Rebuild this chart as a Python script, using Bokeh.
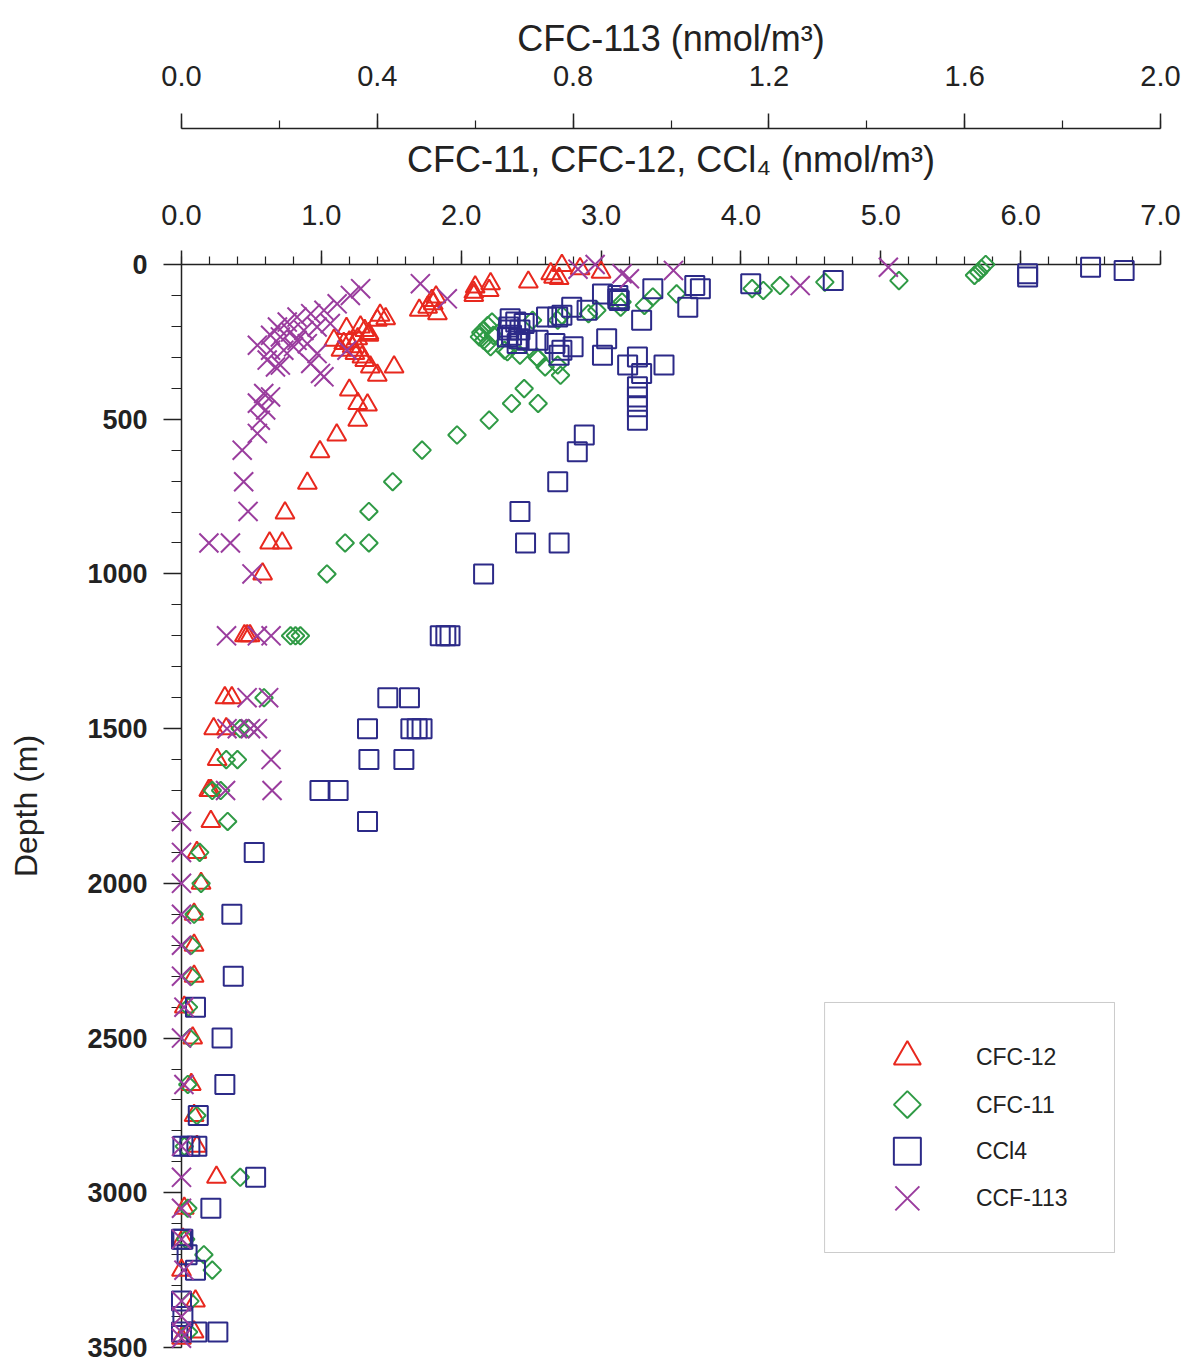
import numpy as np
from bokeh.plotting import figure
from bokeh.models import (Range1d, LinearAxis, FixedTicker, PrintfTickFormatter, BoxAnnotation)
from bokeh.core.properties import value
from bokeh.embed import file_html
from bokeh.resources import INLINE

# ---- profile data: depth (m) and concentration (nmol/m3) ----
cfc12_depth = [3, 14, 25, 30, 41, 45, 57, 62, 73, 84, 90, 100, 105, 116, 127, 138, 148, 159, 164, 175,
               180, 202, 207, 213, 223, 229, 240, 245, 250, 255, 266, 277, 277, 288, 299, 310, 331, 358, 331, 406,
               449, 454, 503, 551, 605, 707, 803, 900, 900, 1000, 1200, 1200, 1200, 1400, 1400,
               1500, 1500, 1600, 1700, 1700, 1800, 1900, 2000, 2100, 2200, 2300, 2400, 2500, 2650, 2750,
               2850, 2950, 3050, 3150, 3250, 3350, 3450, 3470]
cfc12_conc = [2.72, 2.85, 3.00, 2.64, 2.66, 2.70, 2.48, 2.21, 2.10, 2.20, 2.09, 2.09, 1.82, 1.79, 1.80, 1.76, 1.70, 1.83, 1.42, 1.46,
              1.40, 1.28, 1.18, 1.31, 1.34, 1.34, 1.26, 1.09, 1.20, 1.16, 1.22, 1.14, 1.27, 1.24, 1.29, 1.31, 1.35, 1.40, 1.52, 1.20,
              1.26, 1.33, 1.26, 1.11, 0.99, 0.90, 0.74, 0.63, 0.72, 0.58, 0.45, 0.47, 0.49, 0.31, 0.36,
              0.23, 0.32, 0.255, 0.195, 0.21, 0.21, 0.11, 0.14, 0.09, 0.09, 0.09, 0.02, 0.08, 0.07, 0.09,
              0.11, 0.25, 0.02, 0.01, 0.0, 0.10, 0.09, 0.0]

cfc11_depth = [0, 14, 25, 35, 52, 57, 68, 78, 84, 95, 105, 121, 132, 138, 148, 159, 164, 180, 180, 186,
               197, 212, 220, 229, 234, 245, 255, 266, 277, 282, 293, 299, 304, 325, 331, 358, 401, 449, 449, 503,
               551, 600, 702, 798, 900, 900, 1000, 1200, 1200, 1200, 1400, 1500, 1500, 1600, 1600,
               1700, 1700, 1800, 1900, 2000, 2100, 2200, 2300, 2400, 2500, 2650, 2750, 2850, 2950, 3050,
               3150, 3200, 3250, 3350, 3450]
cfc11_conc = [5.75, 5.72, 5.70, 5.67, 5.13, 4.60, 4.28, 4.08, 4.16, 3.54, 3.37, 3.15, 3.31, 3.14, 2.97, 2.91, 2.72, 2.69, 2.51, 2.22,
              2.19, 2.16, 2.14, 2.23, 2.13, 2.16, 2.19, 2.21, 2.31, 2.33, 2.42, 2.54, 2.55, 2.69, 2.60, 2.71, 2.45, 2.36, 2.55, 2.20,
              1.97, 1.72, 1.51, 1.34, 1.17, 1.34, 1.04, 0.78, 0.815, 0.85, 0.59, 0.42, 0.48, 0.32, 0.40,
              0.22, 0.28, 0.33, 0.13, 0.14, 0.09, 0.07, 0.07, 0.05, 0.06, 0.045, 0.11, 0.02, 0.42, 0.045,
              0.03, 0.16, 0.22, 0.06, 0.05]

ccl4_depth = [9, 19, 30, 40, 52, 62, 68, 78, 78, 95, 100, 111, 116, 138, 138, 148, 164, 170, 170, 175,
              180, 186, 191, 202, 212, 212, 229, 234, 240, 240, 245, 245, 255, 255, 266, 277, 293, 293, 299, 325,
              325, 352, 395, 428, 460, 503, 551, 605, 702, 798, 900, 900, 1000, 1200, 1200, 1200, 1400, 1400,
              1500, 1500, 1500, 1500, 1600, 1600, 1700, 1700, 1800, 1900, 2100, 2300, 2400, 2500, 2650, 2750,
              2850, 2850, 2850, 2950, 3050, 3150, 3150, 3200, 3250, 3350, 3400, 3450, 3450, 3450]
ccl4_conc = [6.50, 6.74, 6.05, 6.05, 4.66, 4.07, 3.67, 3.71, 3.37, 3.01, 3.12, 3.12, 3.13, 3.62, 2.79, 2.90, 2.72, 2.61, 2.69, 2.35,
             3.29, 2.39, 2.45, 2.34, 2.42, 2.34, 2.36, 2.33, 2.41, 3.04, 2.47, 2.55, 2.40, 2.67, 2.80, 2.72, 2.70, 3.01, 3.26, 3.19,
             3.45, 3.29, 3.26, 3.26, 3.26, 3.26, 2.88, 2.83, 2.69, 2.42, 2.46, 2.70, 2.16, 1.85, 1.89, 1.92, 1.475, 1.63,
             1.33, 1.64, 1.685, 1.72, 1.34, 1.59, 0.99, 1.12, 1.33, 0.52, 0.36, 0.37, 0.10, 0.29, 0.31, 0.12,
             0.01, 0.06, 0.11, 0.53, 0.21, 0.01, 0.0, 0.04, 0.10, 0.0, 0.01, 0.0, 0.11, 0.26]

cfc113_depth = [0, 9, 15, 19, 30, 46, 62, 68, 78, 100, 111, 127, 148, 159, 170, 186, 191, 202, 202, 213,
                218, 229, 234, 245, 256, 261, 266, 277, 277, 277, 288, 309, 320, 325, 331, 352, 363, 417, 428, 448,
                470, 503, 546, 600, 702, 798, 900, 900, 1000, 1200, 1200, 1200, 1400, 1400,
                1500, 1500, 1500, 1500, 1600, 1700, 1700, 1800, 1900, 2000, 2100, 2200, 2300, 2400, 2500, 2650,
                2850, 2950, 3050, 3150, 3250, 3350, 3400, 3450, 3470]
cfc113_conc = [0.845, 1.444, 0.81, 1.005, 0.90, 0.915, 0.488, 1.264, 0.366, 0.345, 0.543, 0.318, 0.291, 0.264, 0.236, 0.216, 0.304, 0.196, 0.277, 0.25,
               0.223, 0.182, 0.202, 0.236, 0.257, 0.155, 0.229, 0.209, 0.182, 0.338, 0.277, 0.175, 0.264, 0.202, 0.192, 0.284, 0.291, 0.168, 0.182, 0.155,
               0.172, 0.161, 0.155, 0.124, 0.127, 0.136, 0.056, 0.10, 0.144, 0.092, 0.155, 0.183, 0.134, 0.178,
               0.093, 0.114, 0.141, 0.155, 0.183, 0.09, 0.185, 0.0, 0.0, 0.0, 0.0, 0.0, 0.0, 0.005, 0.0, 0.005,
               0.0, 0.0, 0.0, 0.0, 0.005, 0.0, 0.0, 0.0, 0.0]

# ---- axis tick definitions ----
main_ticks = [0, 1, 2, 3, 4, 5, 6, 7]
main_minor = [round(i * 0.2, 1) for i in range(36)]
cfc113_ticks = [0.0, 0.4, 0.8, 1.2, 1.6, 2.0]
cfc113_minor = [round(i * 0.2, 1) for i in range(11)]
depth_ticks = [0, 500, 1000, 1500, 2000, 2500, 3000, 3500]
depth_minor = list(range(0, 3501, 100))

# ---- legend entries ----
legend_labels = ["CFC-12", "CFC-11", "CCl4", "CCF-113"]

RED = "#e8281e"
GREEN = "#2f9a45"
NAVY = "#2c2a88"
PURPLE = "#9a3d9e"
INK = "#222222"
FONT = "Liberation Sans"

p = figure(width=1190, height=1364, title=None,
           x_range=Range1d(0, 7), y_range=Range1d(3500, 0),
           x_axis_location="above", output_backend="svg", toolbar_location=None,
           min_border_left=181, min_border_right=30, min_border_top=264, min_border_bottom=17)
p.extra_x_ranges = {"cfc113": Range1d(0, 2)}
p.outline_line_color = None
p.xgrid.visible = False
p.ygrid.visible = False
p.background_fill_color = "white"
p.border_fill_color = "white"


def style_axis(ax, tick_out, minor_out, label_size, label_standoff):
    ax.axis_line_color = INK
    ax.axis_line_width = 1.5
    ax.major_tick_line_color = INK
    ax.minor_tick_line_color = INK
    ax.major_tick_line_width = 1.5
    ax.minor_tick_line_width = 1.2
    ax.major_tick_in = 0
    ax.minor_tick_in = 0
    ax.major_tick_out = tick_out
    ax.minor_tick_out = minor_out
    ax.major_label_text_font = FONT
    ax.major_label_text_font_size = label_size
    ax.major_label_text_color = INK
    ax.major_label_standoff = label_standoff
    ax.axis_label_text_font = FONT
    ax.axis_label_text_font_style = "normal"
    ax.axis_label_text_color = INK


# inner top axis: CFC-11, CFC-12, CCl4
xax = p.xaxis[0]
xax.ticker = FixedTicker(ticks=main_ticks, minor_ticks=main_minor)
xax.formatter = PrintfTickFormatter(format="%.1f")
style_axis(xax, 14, 8, "29px", 26)
xax.axis_label = "CFC-11, CFC-12, CCl\u2084 (nmol/m\u00b3)"
xax.axis_label_text_font_size = "36px"
xax.axis_label_standoff = 22

# blank band that separates the two top scales: one white tick, no line, no labels
gap = LinearAxis(ticker=FixedTicker(ticks=[7], minor_ticks=[]), major_tick_out=7, minor_tick_out=0,
                 major_tick_in=0, minor_tick_in=0, major_label_standoff=0,
                 major_label_text_color=None, axis_line_color=None,
                 major_tick_line_color="white", minor_tick_line_color=None)
p.add_layout(gap, "above")

# outer top axis: CFC-113
ax113 = LinearAxis(x_range_name="cfc113",
                   ticker=FixedTicker(ticks=cfc113_ticks, minor_ticks=cfc113_minor),
                   formatter=PrintfTickFormatter(format="%.1f"),
                   axis_label="CFC-113 (nmol/m\u00b3)")
style_axis(ax113, 15, 8, "29px", 28)
ax113.axis_label_text_font_size = "36px"
ax113.axis_label_standoff = 4
p.add_layout(ax113, "above")

# depth axis
yax = p.yaxis[0]
yax.ticker = FixedTicker(ticks=depth_ticks, minor_ticks=depth_minor)
style_axis(yax, 18, 10, "27px", 16)
yax.major_label_text_font_style = "bold"
yax.axis_label = "Depth (m)"
yax.axis_label_text_font_size = "32px"
yax.axis_label_standoff = 40

# profiles (drawn on the overlay level so symbols on the axes are not cut)
tri = dict(marker="triangle", size=19, fill_color=None, line_color=RED, line_width=2)
dia = dict(marker="square", angle=np.pi / 4, size=12.5, fill_color=None, line_color=GREEN, line_width=2)
sqr = dict(marker="square", size=19, fill_color=None, line_color=NAVY, line_width=2)
crs = dict(marker="x", size=27, line_color=PURPLE, line_width=2)

p.scatter(cfc12_conc, cfc12_depth, level="overlay", **tri)
p.scatter(cfc11_conc, cfc11_depth, level="overlay", **dia)
p.scatter(ccl4_conc, ccl4_depth, level="overlay", **sqr)
p.scatter(cfc113_conc, cfc113_depth, level="overlay", x_range_name="cfc113", **crs)

# legend panel, laid out in the main concentration / depth coordinates
LEG_LEFT, LEG_RIGHT, LEG_TOP, LEG_BOTTOM = 4.598, 6.671, 2385, 3193
LEG_KEY_X, LEG_TEXT_X = 5.19, 5.68
LEG_ROWS = [2560, 2715, 2866, 3018]

p.add_layout(BoxAnnotation(left=LEG_LEFT, right=LEG_RIGHT, top=LEG_TOP, bottom=LEG_BOTTOM,
                           fill_color="white", fill_alpha=1, line_color="#555555", line_width=1))
key_styles = [dict(tri, size=27), dict(dia, size=19), dict(sqr, size=27), dict(crs, size=34)]
for row, style in zip(LEG_ROWS, key_styles):
    p.scatter([LEG_KEY_X], [row], level="overlay", **style)
p.text(x=[LEG_TEXT_X] * len(legend_labels), y=LEG_ROWS, text=legend_labels, level="overlay",
       text_font=value(FONT), text_font_size="23px", text_color=INK,
       text_align="left", text_baseline="middle")

open("out.html", "w").write(file_html(p, INLINE))
